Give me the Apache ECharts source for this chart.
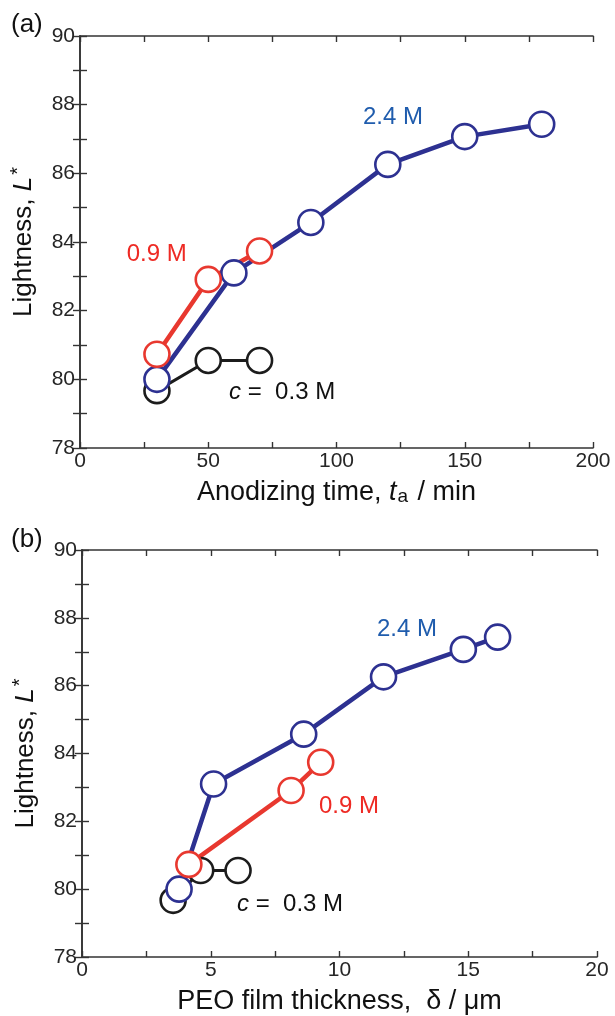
<!DOCTYPE html>
<html>
<head>
<meta charset="utf-8">
<script src="https://cdn.jsdelivr.net/npm/echarts@6/dist/echarts.min.js"></script>
<style>
html,body{margin:0;padding:0;background:#fff;}
#c{width:615px;height:1016px;}
</style>
</head>
<body>
<div id="c"></div>
<script>
// ---------- data ----------
// panel (a): anodizing time / min
const timeC03 = [30, 50, 70];
const timeC09 = [30, 50, 70];
const timeC24 = [30, 60, 90, 120, 150, 180];
// panel (b): PEO film thickness / um
const thickC03 = [3.54, 4.61, 6.06];
const thickC09 = [4.15, 8.12, 9.27];
const thickC24 = [3.77, 5.11, 8.61, 11.71, 14.81, 16.14];
// lightness L*
const lightC03 = [79.67, 80.55, 80.55];
const lightC09 = [80.73, 82.91, 83.74];
const lightC24 = [80.0, 83.1, 84.57, 86.26, 87.07, 87.43];
// axis ticks (labelled)
const xTicksA = [0, 50, 100, 150, 200];
const xTicksB = [0, 5, 10, 15, 20];
const yTicks = [78, 80, 82, 84, 86, 88, 90];
// annotation labels (anchor in data units)
const annText = ['2.4 M', '0.9 M', 'c = 0.3 M'];
const annXA = [122, 29.9, 78.8];
const annYA = [87.62, 83.64, 79.62];
const annXB = [12.62, 10.37, 8.08];
const annYB = [87.67, 82.43, 79.56];

// ---------- styles ----------
const FONT = "'Liberation Sans', Arial, Helvetica, sans-serif";
const AX = '#333';
const BLUE = '#2d3191', RED = '#e8382f', BLACK = '#1c1c1c';
const annColors = ['#1f5cad', '#ee2a24', '#111'];

function zip(xs, ys){ return xs.map((x,i)=>[x, ys[i]]); }
function labelEvery(step){
  return (v)=>{ const r = Math.abs(v/step - Math.round(v/step)); return r < 1e-6 ? String(v) : ''; };
}

function xAxes(gi, ticks, nameRich){
  const min = ticks[0], max = ticks[ticks.length-1], step = ticks[1]-ticks[0];
  const base = {
    type:'value', gridIndex:gi, min, max, interval: step/2,
    splitLine:{show:false},
    axisLine:{show:true, lineStyle:{color:AX, width:1.6}},
    axisTick:{show:true, inside:true, length:6, lineStyle:{color:AX, width:1.4}},
  };
  return [
    Object.assign({}, base, {
      position:'bottom',
      axisLabel:{show:true, margin:3, fontSize:21, color:'#262626', fontFamily:FONT,
        formatter: labelEvery(step), showMinLabel:true, showMaxLabel:true},
      name: nameRich.text, nameLocation:'middle', nameGap:31,
      nameTextStyle:{fontSize:27, color:'#111', fontFamily:FONT, rich:nameRich.rich}
    }),
    Object.assign({}, base, {position:'top', axisLabel:{show:false}})
  ];
}
function yAxes(gi){
  const min = yTicks[0], max = yTicks[yTicks.length-1], step = yTicks[1]-yTicks[0];
  const base = {
    type:'value', gridIndex:gi, min, max, interval: step/2,
    splitLine:{show:false},
    axisLine:{show:true, lineStyle:{color:AX, width:1.6}},
    axisTick:{show:true, inside:true, length:7, lineStyle:{color:AX, width:1.4}},
  };
  return [
    Object.assign({}, base, {
      position:'left',
      axisLabel:{show:true, margin:5, fontSize:21, color:'#262626', fontFamily:FONT,
        formatter: labelEvery(step)},
      name:'Lightness, {i|L}{sup|*}', nameLocation:'middle', nameGap:40, nameRotate:90,
      nameTextStyle:{fontSize:26, color:'#111', fontFamily:FONT,
        rich:{i:{fontSize:26, fontStyle:'italic', fontFamily:FONT, color:'#111'},
              sup:{fontSize:20, fontFamily:FONT, color:'#111', verticalAlign:'top', padding:[0,0,12,2]}}}
    }),
    Object.assign({}, base, {position:'right', axisLabel:{show:false}})
  ];
}

function lineSeries(xi, yi, data, color, lw){
  return {
    type:'line', xAxisIndex:xi, yAxisIndex:yi, data,
    symbol:'circle', symbolSize:25, showSymbol:true,
    lineStyle:{color, width:lw},
    itemStyle:{color:'#fff', borderColor:color, borderWidth:2.6},
    emphasis:{disabled:true}, silent:true, z:3
  };
}
function annSeries(xi, yi, xs, ys){
  return {
    type:'scatter', xAxisIndex:xi, yAxisIndex:yi, symbolSize:1,
    itemStyle:{color:'rgba(0,0,0,0)', opacity:1}, silent:true, z:5,
    emphasis:{disabled:true},
    data: annText.map((t,i)=>({value:[xs[i], ys[i]], label:{color:annColors[i]}})),
    label:{show:true, position:'inside', fontSize:24, fontFamily:FONT, opacity:1,
      formatter:(p)=>{
        const t = annText[p.dataIndex];
        return t.startsWith('c = ') ? '{i|c} =  ' + t.slice(4) : t;
      },
      rich:{i:{fontSize:24, fontStyle:'italic', fontFamily:FONT, color:'#111'}}}
  };
}

const chart = echarts.init(document.getElementById('c'), null, {renderer:'canvas'});
const xa = xAxes(0, xTicksA, {text:'Anodizing time, {i|t}{sub|a} / min',
  rich:{i:{fontSize:27, fontStyle:'italic', fontFamily:FONT, color:'#111'},
        sub:{fontSize:19, fontFamily:FONT, color:'#111', verticalAlign:'bottom', padding:[6,2,0,1]}}});
const xb = xAxes(1, xTicksB, {text:'PEO film thickness,  δ / μm', rich:{}});
const ya = yAxes(0), yb = yAxes(1);

chart.setOption({
  animation:false,
  backgroundColor:'#fff',
  textStyle:{fontFamily:FONT},
  title:[
    {text:'(a)', left:6, top:7, textStyle:{fontSize:26, fontWeight:'normal', color:'#111', fontFamily:FONT}},
    {text:'(b)', left:6, top:522, textStyle:{fontSize:26, fontWeight:'normal', color:'#111', fontFamily:FONT}}
  ],
  grid:[
    {left:80, top:36, width:513, height:412},
    {left:82, top:550, width:515, height:412}
  ],
  xAxis:[xa[0], xa[1], xb[0], xb[1]],
  yAxis:[ya[0], ya[1], yb[0], yb[1]],
  series:[
    lineSeries(0, 0, zip(timeC03, lightC03), BLACK, 3),
    lineSeries(0, 0, zip(timeC24, lightC24), BLUE, 4.5),
    lineSeries(0, 0, zip(timeC09, lightC09), RED, 4.5),
    annSeries(0, 0, annXA, annYA),
    lineSeries(2, 2, zip(thickC03, lightC03), BLACK, 3),
    lineSeries(2, 2, zip(thickC24, lightC24), BLUE, 4.5),
    lineSeries(2, 2, zip(thickC09, lightC09), RED, 4.5),
    annSeries(2, 2, annXB, annYB)
  ]
});
</script>
</body>
</html>
